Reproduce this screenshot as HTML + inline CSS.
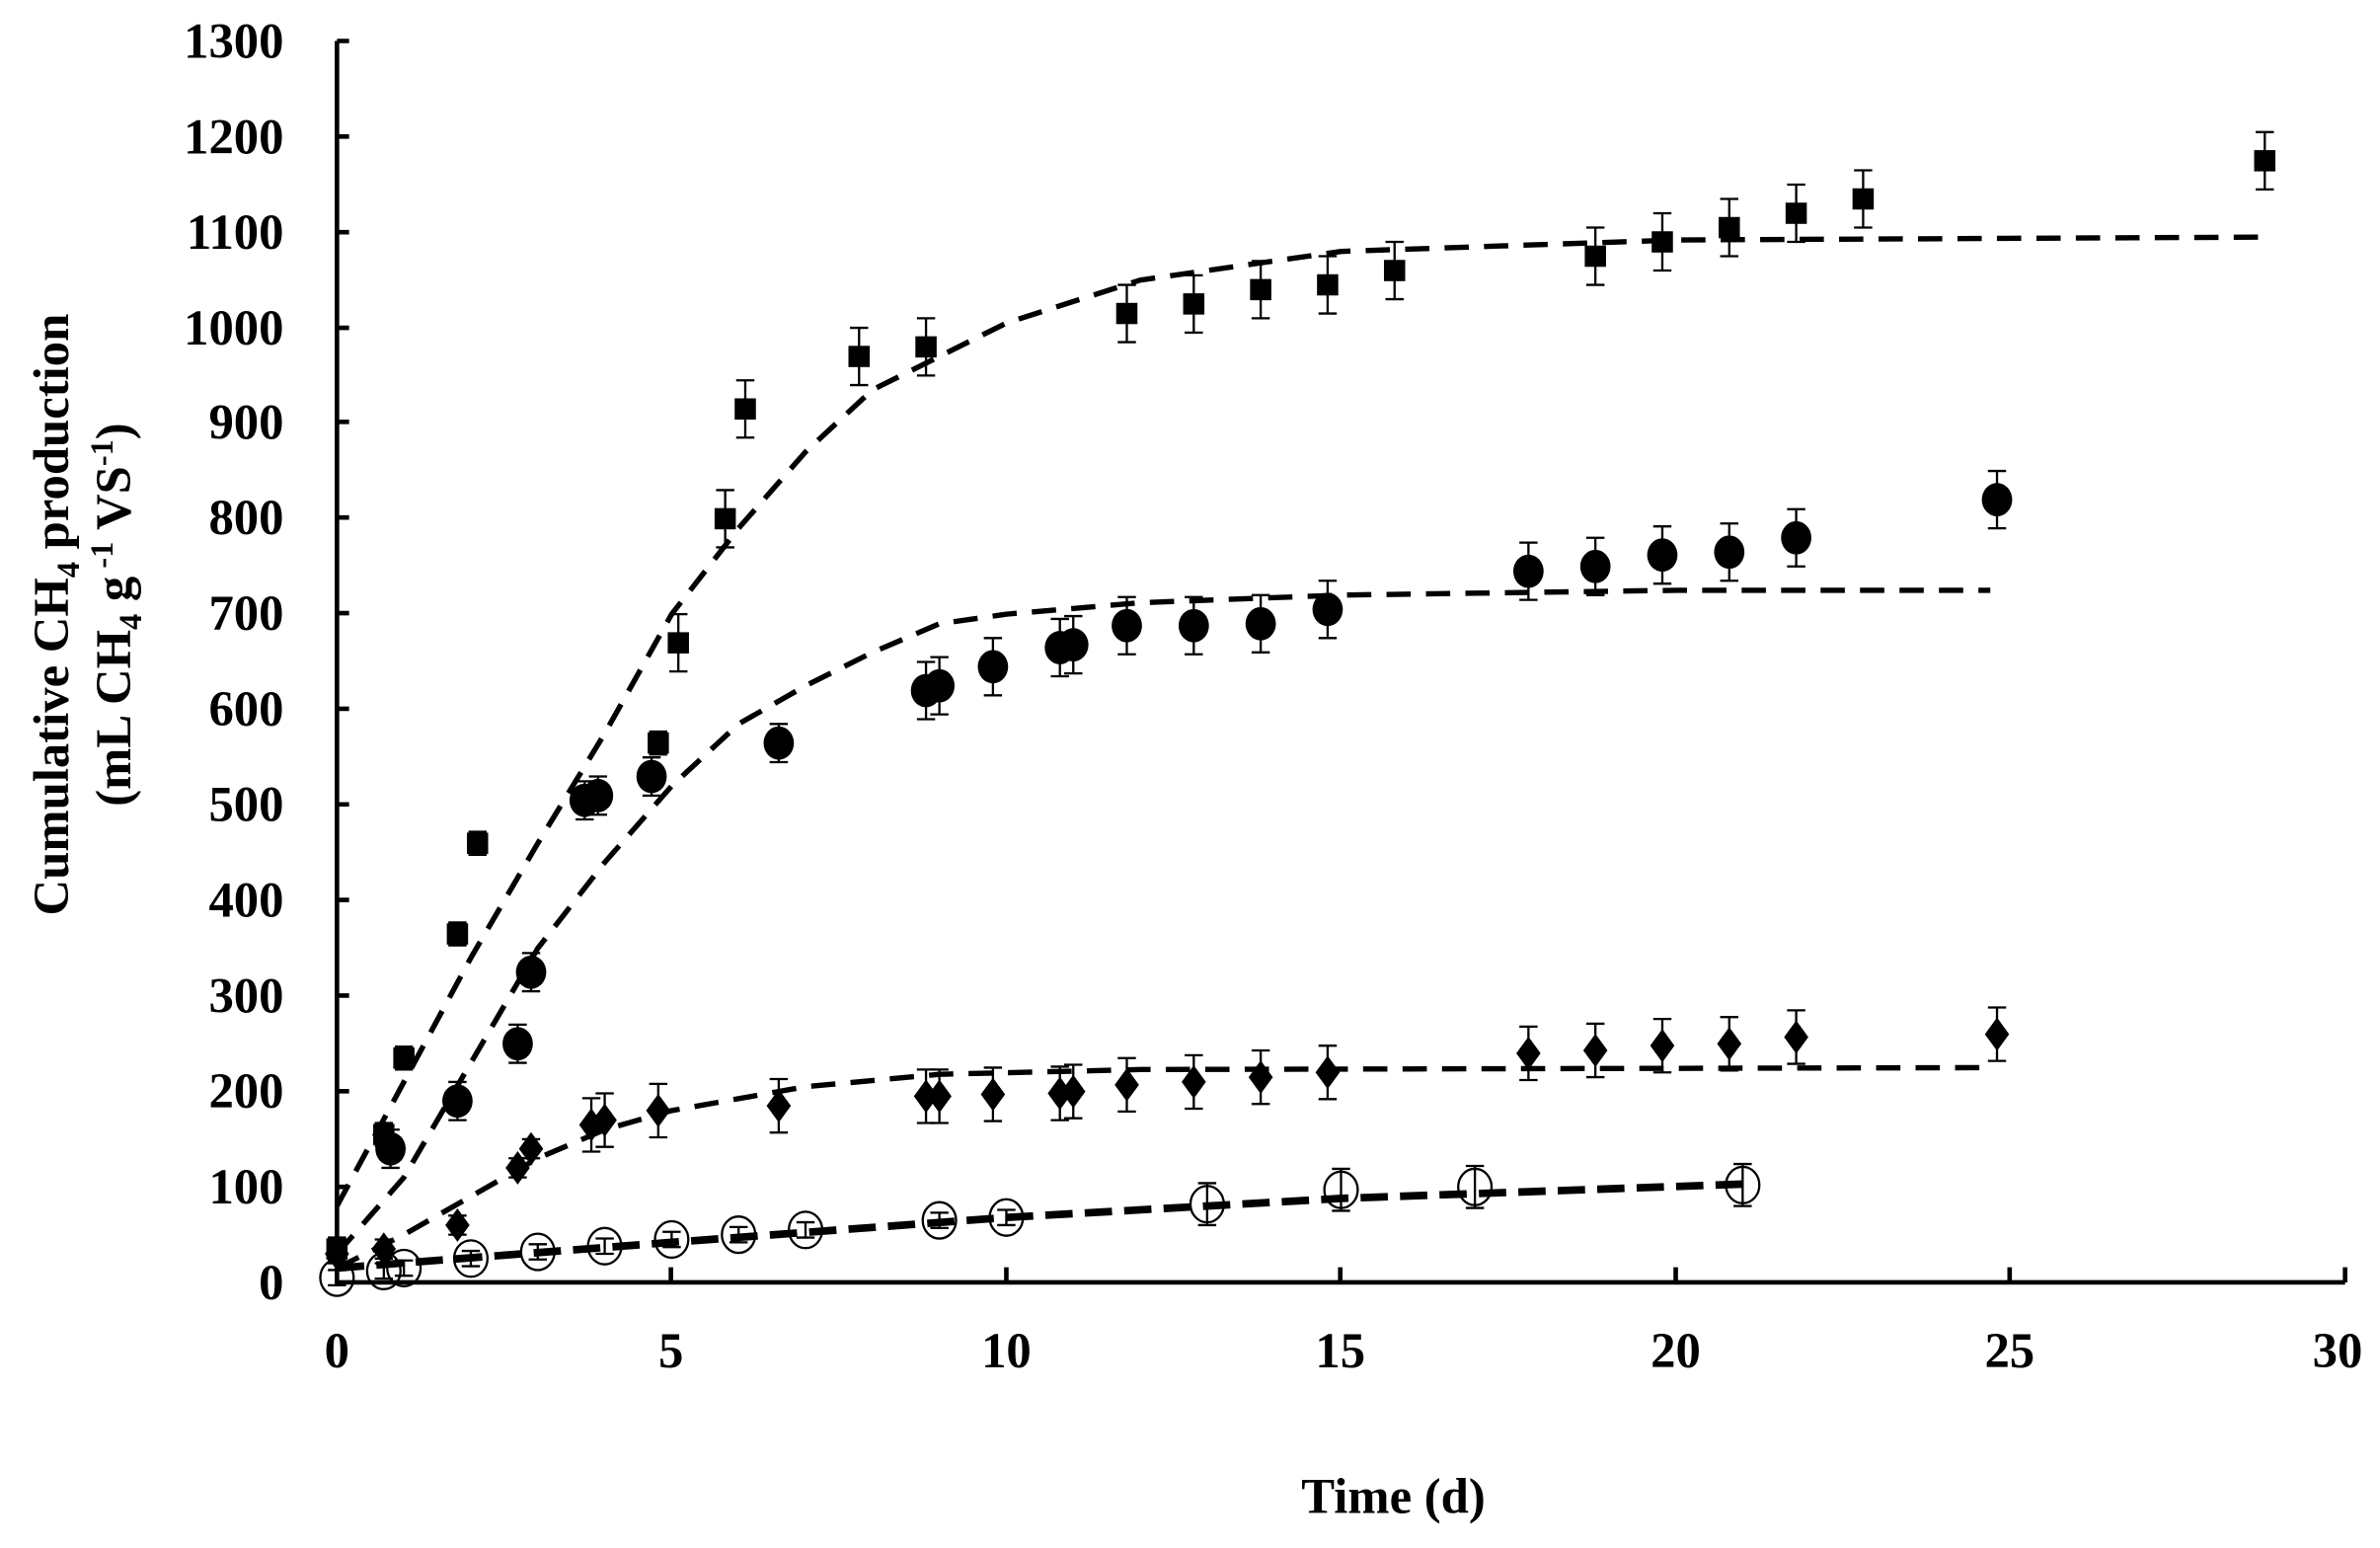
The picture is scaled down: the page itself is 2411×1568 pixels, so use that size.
<!DOCTYPE html>
<html><head><meta charset="utf-8"><style>
html,body{margin:0;padding:0;background:#fff}
svg{display:block}
text{font-family:"Liberation Serif",serif;font-weight:bold;fill:#000}
</style></head><body>
<svg id="s" width="2411" height="1568" viewBox="0 0 1568 1020" preserveAspectRatio="none" xmlns="http://www.w3.org/2000/svg">
<g stroke="#000" stroke-width="3" fill="none">
<path d="M222,27 V845 H1545"/>
<path d="M222,27h8M222,90h8M222,153h8M222,216h8M222,278h8M222,341h8M222,404h8M222,467h8M222,530h8M222,593h8M222,656h8M222,719h8M222,782h8"/>
<path d="M442,845v-10M663,845v-10M883,845v-10M1104,845v-10M1324,845v-10M1545,845v-10"/>
</g>
<g font-size="33" text-anchor="end">
<text x="187" y="38">1300</text><text x="187" y="101">1200</text><text x="187" y="164">1100</text>
<text x="187" y="227">1000</text><text x="187" y="289">900</text><text x="187" y="352">800</text>
<text x="187" y="415">700</text><text x="187" y="478">600</text><text x="187" y="541">500</text>
<text x="187" y="604">400</text><text x="187" y="667">300</text><text x="187" y="730">200</text>
<text x="187" y="793">100</text><text x="187" y="856">0</text>
</g>
<g font-size="33" text-anchor="middle">
<text x="222" y="901">0</text><text x="442" y="901">5</text><text x="663" y="901">10</text>
<text x="883" y="901">15</text><text x="1104" y="901">20</text><text x="1324" y="901">25</text><text x="1540" y="901">30</text>
<text x="918" y="997" font-size="33">Time (d)</text>
</g>
<text font-size="33" text-anchor="middle" transform="translate(45,405) rotate(-90)">Cumulative CH<tspan font-size="21" dy="7">4</tspan><tspan dy="-7"> production</tspan></text>
<text font-size="33" text-anchor="middle" transform="translate(86,405) rotate(-90)">(mL CH<tspan font-size="21" dy="7">4</tspan><tspan dy="-7"> g</tspan><tspan font-size="21" dy="-12"> -1</tspan><tspan dy="12"> VS</tspan><tspan font-size="21" dy="-12">-1</tspan><tspan dy="12">)</tspan></text>
<g id="d"></g>
</svg>
<script>
var X=t=>222+44.1*t, Y=v=>845-0.629*v, g=document.getElementById('d'), h='';
function line(pts,w,da){h+='<polyline fill="none" stroke="#000" stroke-width="'+w+'" stroke-dasharray="'+da+'" points="'+pts.map(p=>X(p[0])+','+Y(p[1])).join(' ')+'"/>';}
function eb(x,y,e){var cx=X(x),t=Y(y+e),b=Y(y-e);h+='<path stroke="#000" stroke-width="1.5" fill="none" d="M'+cx+','+t+'V'+b+'M'+(cx-6)+','+t+'h12M'+(cx-6)+','+b+'h12"/>';}
line([[0,80],[1,210],[2,340],[3,460],[4,575],[5,700],[6,790],[7,870],[8,935],[10,1005],[12,1050],[15,1080],[20,1092],[28.7,1095]],3.5,'16 10');
line([[0,30],[1,110],[2,230],[3,350],[4,440],[5,520],[6,585],[7,625],[8,660],[9,690],[10,700],[12,712],[15,720],[20,725],[24.7,725]],3.5,'16 10');
line([[0,15],[1,50],[2,90],[3,130],[4,160],[5,180],[7,205],[9,218],[12,223],[24.7,225]],3.5,'16 10');
line([[0,15],[5,42],[10,68],[15,88],[21,103]],5,'18 8');
var sq=[[0,35],[0.7,155],[1,235],[1.8,365],[2.1,460],[4.8,565],[5.1,670],[5.8,800],[6.1,915],[7.8,970],[8.8,980],[11.8,1015],[12.8,1025],[13.8,1040],[14.8,1045],[15.8,1060],[18.8,1075],[19.8,1090],[20.8,1105],[21.8,1120],[22.8,1135],[28.8,1175]];
sq.forEach(p=>{eb(p[0],p[1],p[1]>600?30:12);h+='<rect x="'+(X(p[0])-7)+'" y="'+(Y(p[1])-7)+'" width="14" height="14"/>';});
var ci=[[0.8,140],[1.8,190],[2.7,250],[2.9,325],[3.7,505],[3.9,510],[4.7,530],[6.6,565],[8.8,620],[9,625],[9.8,645],[10.8,665],[11,668],[11.8,688],[12.8,688],[13.8,690],[14.8,705],[17.8,745],[18.8,750],[19.8,762],[20.8,765],[21.8,780],[24.8,820]];
ci.forEach(p=>{eb(p[0],p[1],p[1]>600?30:20);h+='<ellipse cx="'+X(p[0])+'" cy="'+Y(p[1])+'" rx="10" ry="11"/>';});
var di=[[0,30],[0.7,35],[1.8,60],[2.7,120],[2.9,140],[3.8,165],[4,170],[4.8,180],[6.6,185],[8.8,195],[9,195],[9.8,197],[10.8,198],[11,200],[11.8,207],[12.8,210],[13.8,215],[14.8,220],[17.8,240],[18.8,243],[19.8,248],[20.8,250],[21.8,257],[24.8,260]];
di.forEach(p=>{eb(p[0],p[1],p[1]>150?28:10);var x=X(p[0]),y=Y(p[1]);h+='<polygon points="'+x+','+(y-11)+' '+(x+8)+','+y+' '+x+','+(y+11)+' '+(x-8)+','+y+'"/>';});
var oc=[[0,5],[0.7,12],[1,15],[2,25],[3,32],[4,38],[5,45],[6,50],[7,55],[9,65],[10,68],[13,82],[15,97],[17,100],[21,102]];
oc.forEach(p=>{h+='<ellipse cx="'+X(p[0])+'" cy="'+Y(p[1])+'" rx="11" ry="12" fill="none" stroke="#000" stroke-width="1.5"/>';eb(p[0],p[1],p[1]>80?22:8);});
g.innerHTML=h;
</script>
</body></html>
